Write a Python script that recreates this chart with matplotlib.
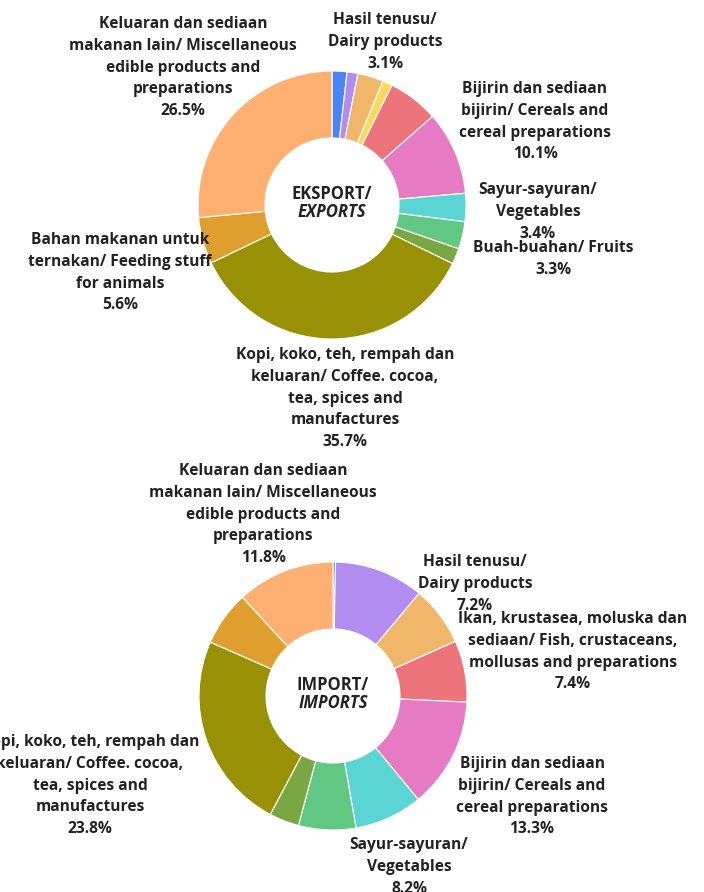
import numpy as np
import matplotlib
matplotlib.use("Agg")
import matplotlib.pyplot as plt

plt.rcParams['font.family'] = ['Open Sans', 'DejaVu Sans']

# slice colours, same category order for both donuts
colors = ['#4a85f7', '#b38cf2', '#f0b76b', '#fdd85a', '#ee747c', '#e77bc3',
          '#5ad5d3', '#61c884', '#79a842', '#999105', '#df9f2e', '#fdb071']

# shares (%), clockwise from 12 o'clock
export_vals = [1.8, 1.3, 3.1, 1.2, 6.1, 10.1, 3.4, 3.3, 1.9, 35.7, 5.6, 26.5]
import_vals = [0.3, 10.8, 7.2, 0.0, 7.4, 13.3, 8.2, 6.9, 3.6, 23.8, 6.6, 11.8]

# label text per category (None = no label shown)
export_names = [None, None, 'Hasil tenusu/\nDairy products', None, None,
                'Bijirin dan sediaan\nbijirin/ Cereals and\ncereal preparations',
                'Sayur-sayuran/\nVegetables', 'Buah-buahan/ Fruits', None,
                'Kopi, koko, teh, rempah dan\nkeluaran/ Coffee. cocoa,\ntea, spices and\nmanufactures',
                'Bahan makanan untuk\nternakan/ Feeding stuff\nfor animals',
                'Keluaran dan sediaan\nmakanan lain/ Miscellaneous\nedible products and\npreparations']
import_names = [None, None, 'Hasil tenusu/\nDairy products', None,
                'Ikan, krustasea, moluska dan\nsediaan/ Fish, crustaceans,\nmollusas and preparations',
                'Bijirin dan sediaan\nbijirin/ Cereals and\ncereal preparations',
                'Sayur-sayuran/\nVegetables', None, None,
                'Kopi, koko, teh, rempah dan\nkeluaran/ Coffee. cocoa,\ntea, spices and\nmanufactures',
                None,
                'Keluaran dan sediaan\nmakanan lain/ Miscellaneous\nedible products and\npreparations']

# label anchor positions in pixels (centre x, top y)
export_pos = {2: (385, 12), 5: (535, 81), 6: (538, 182), 7: (553, 240),
              9: (345, 347), 10: (120, 232), 11: (183, 16)}
import_pos = {2: (475, 554), 4: (573, 611), 5: (532, 756), 6: (409, 837),
              9: (90, 734), 11: (263, 463)}

W, H = 704, 892
fig = plt.figure(figsize=(W / 100, H / 100), dpi=100)
R = 134


def donut(cx, cy, vals, names, pos, title, subtitle):
    ax = fig.add_axes([(cx - R) / W, 1 - (cy + R) / H, 2 * R / W, 2 * R / H])
    ax.pie(vals, colors=colors, startangle=90, counterclock=False,
           radius=1, wedgeprops=dict(width=0.5, edgecolor='white', linewidth=0.8))
    ax.set_xlim(-1, 1)
    ax.set_ylim(-1, 1)
    ax.set_aspect('equal')
    ax.axis('off')
    ax.text(0, 0.08, title, ha='center', va='center', fontsize=12,
            fontweight='bold', color='#222222')
    ax.text(0, -0.05, subtitle, ha='center', va='center', fontsize=12,
            fontweight='bold', style='italic', color='#222222')
    for i, (x, y) in pos.items():
        fig.text(x / W, 1 - y / H, f'{names[i]}\n{vals[i]}%', ha='center',
                 va='top', fontsize=11.2, fontweight='bold', color='#222222',
                 linespacing=1.48)


donut(332, 205, export_vals, export_names, export_pos, 'EKSPORT/', 'EXPORTS')
donut(333, 696, import_vals, import_names, import_pos, 'IMPORT/', 'IMPORTS')

fig.savefig('out.png', dpi=100, facecolor='white')
